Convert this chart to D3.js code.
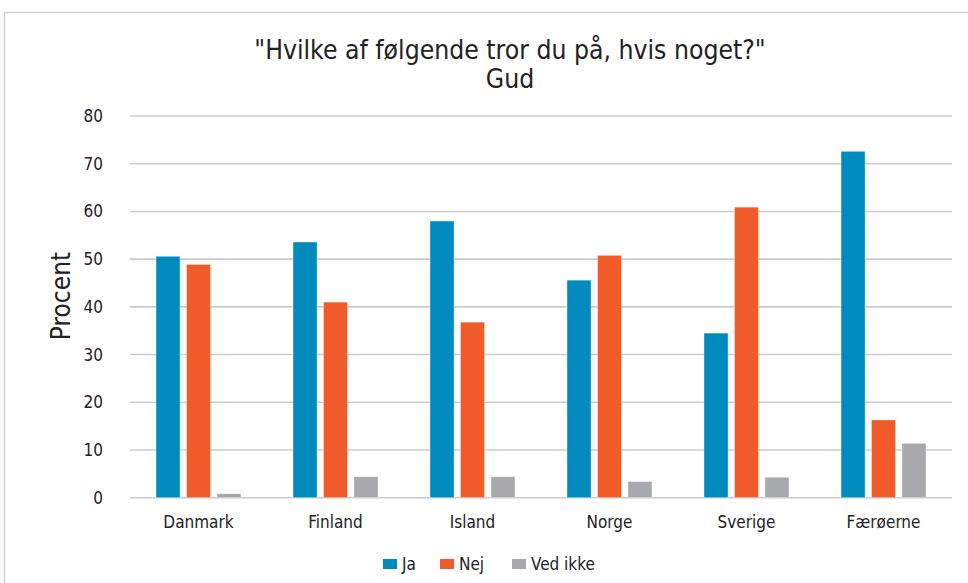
<!DOCTYPE html>
<html>
<head>
<meta charset="utf-8">
<script src="https://cdn.jsdelivr.net/npm/d3@7"></script>
<style>
  body { margin: 0; background: #fff; }
  svg text { font-family: "DejaVu Sans Condensed", "Liberation Sans Narrow", sans-serif; fill: #222; }
</style>
</head>
<body>
<svg id="chart" width="968" height="583"></svg>
<script>
// data
const countries = ["Danmark", "Finland", "Island", "Norge", "Sverige", "Færøerne"];
const series = ["Ja", "Nej", "Ved ikke"];
const ja = [50.6, 53.6, 58.0, 45.6, 34.5, 72.6];
const nej = [48.9, 41.0, 36.8, 50.8, 60.9, 16.3];
const vedIkke = [0.85, 4.4, 4.4, 3.4, 4.3, 11.4];
const yTicks = [0, 10, 20, 30, 40, 50, 60, 70, 80];
const colors = ["#008bbf", "#f15a29", "#a7a9ac"];

const values = [ja, nej, vedIkke];
const rows = countries.map((c, i) => ({country: c, vals: values.map(v => v[i])}));

const width = 968, height = 583;
const margin = {top: 116, left: 130, right: 16, bottom: 86};

const svg = d3.select("#chart");

// outer frame
svg.append("rect")
  .attr("x", 4.5).attr("y", 12.5)
  .attr("width", 980).attr("height", 600)
  .attr("fill", "none")
  .attr("stroke", "#d0d3d6")
  .attr("stroke-width", 1.5);

const x = d3.scaleBand()
  .domain(countries)
  .range([margin.left, width - margin.right])
  .paddingInner(0).paddingOuter(0);

const xInner = d3.scaleBand()
  .domain(series)
  .range([26, x.bandwidth() - 26])
  .paddingInner(0.21);

const y = d3.scaleLinear()
  .domain([0, 80])
  .range([height - margin.bottom + 0.7, margin.top]);

// gridlines
svg.append("g")
  .selectAll("line")
  .data(yTicks)
  .join("line")
  .attr("x1", margin.left).attr("x2", width - margin.right)
  .attr("y1", d => y(d)).attr("y2", d => y(d))
  .attr("stroke", "#c9cdd2")
  .attr("stroke-width", 1.6);

// y tick labels
svg.append("g")
  .selectAll("text")
  .data(yTicks)
  .join("text")
  .attr("x", 103)
  .attr("y", d => y(d))
  .attr("dy", "0.35em")
  .attr("text-anchor", "end")
  .style("font-size", "17px")
  .text(d => d);

// bars
const groups = svg.append("g")
  .selectAll("g")
  .data(rows)
  .join("g")
  .attr("transform", d => `translate(${x(d.country)},0)`);

groups.selectAll("rect")
  .data(d => d.vals.map((v, i) => ({key: series[i], v: v, i: i})))
  .join("rect")
  .attr("x", d => xInner(d.key))
  .attr("width", xInner.bandwidth())
  .attr("y", d => y(d.v))
  .attr("height", d => y(0) - y(d.v))
  .attr("fill", d => colors[d.i])
  .attr("stroke", "#fff")
  .attr("stroke-opacity", 0.5)
  .attr("stroke-width", 0.8);

// x labels
svg.append("g")
  .selectAll("text")
  .data(countries)
  .join("text")
  .attr("x", d => x(d) + x.bandwidth() / 2)
  .attr("y", 528)
  .attr("text-anchor", "middle")
  .style("font-size", "17px")
  .text(d => d);

// title
svg.append("text")
  .attr("x", 510).attr("y", 59)
  .attr("text-anchor", "middle")
  .style("font-size", "26.3px")
  .text('"Hvilke af følgende tror du på, hvis noget?"');
svg.append("text")
  .attr("x", 510).attr("y", 88)
  .attr("text-anchor", "middle")
  .style("font-size", "26.3px")
  .text("Gud");

// y axis title
svg.append("text")
  .attr("transform", "translate(70,296) rotate(-90)")
  .attr("text-anchor", "middle")
  .style("font-size", "26px")
  .text("Procent");

// legend
const legendX = [383, 440, 512];
const legend = svg.append("g")
  .selectAll("g")
  .data(series)
  .join("g")
  .attr("transform", (d, i) => `translate(${legendX[i]},559)`);
legend.append("rect")
  .attr("width", 14).attr("height", 10)
  .attr("fill", (d, i) => colors[i]);
legend.append("text")
  .attr("x", 19).attr("y", 5)
  .attr("dy", "0.36em")
  .style("font-size", "17px")
  .text(d => d);
</script>
</body>
</html>
